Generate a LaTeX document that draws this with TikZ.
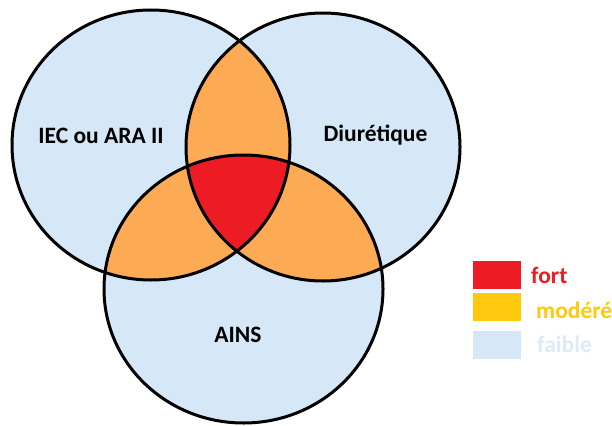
\documentclass[tikz,border=0pt]{standalone}
\usepackage{fontspec}
\setmainfont{Carlito}
\definecolor{faiblec}{RGB}{214,232,247}
\definecolor{faibletxt}{RGB}{220,235,250}
\definecolor{moderec}{RGB}{255,201,14}
\definecolor{orangec}{RGB}{252,170,84}
\definecolor{fortc}{RGB}{237,28,36}
\begin{document}
\begin{tikzpicture}[x=1pt,y=-1pt,
  lab/.style={font=\fontsize{23.5}{28}\selectfont\bfseries, text=black, inner sep=0pt},
  leg/.style={font=\fontsize{23.5}{28}\selectfont\bfseries, inner sep=0pt, anchor=base west},
  legbox/.style={minimum width=48pt, minimum height=28pt, inner sep=0pt, anchor=north west},
  outline/.style={line width=3pt, draw=black}]
\useasboundingbox (0,0) rectangle (612,425);
\clip (0,0) rectangle (612,425);
\def\cA{(151,145) ellipse [x radius=139, y radius=135]}
\def\cB{(323,147) ellipse [x radius=137, y radius=134]}
\def\cC{(243.5,289) ellipse [x radius=139.5, y radius=134]}
% base fills
\fill[faiblec] \cA;
\fill[faiblec] \cB;
\fill[faiblec] \cC;
% pairwise overlaps
\begin{scope}\clip \cA; \fill[orangec] \cB; \fill[orangec] \cC; \end{scope}
\begin{scope}\clip \cB; \fill[orangec] \cC; \end{scope}
% triple overlap
\begin{scope}\clip \cA; \clip \cB; \fill[fortc] \cC; \end{scope}
% outlines
\draw[outline] \cA;
\draw[outline] \cB;
\draw[outline] \cC;
% labels
\node[lab] (iec) at (101,136) {IEC ou ARA II};
\node[lab] (diur) at (375.5,135) {Diurétique};
\node[lab] (ains) at (238,335) {AINS};
% legend
\node[legbox, fill=fortc] (bfort) at (473,261) {};
\node[legbox, fill=moderec] (bmod) at (473,293) {};
\node[legbox, fill=faiblec] (bfai) at (473,331) {};
\node[leg, text=fortc] (tfort) at (531,283) {fort};
\node[leg, text=moderec] (tmod) at (536,318) {modéré};
\node[leg, text=faibletxt] (tfai) at (537,352) {faible};
\end{tikzpicture}
\end{document}
